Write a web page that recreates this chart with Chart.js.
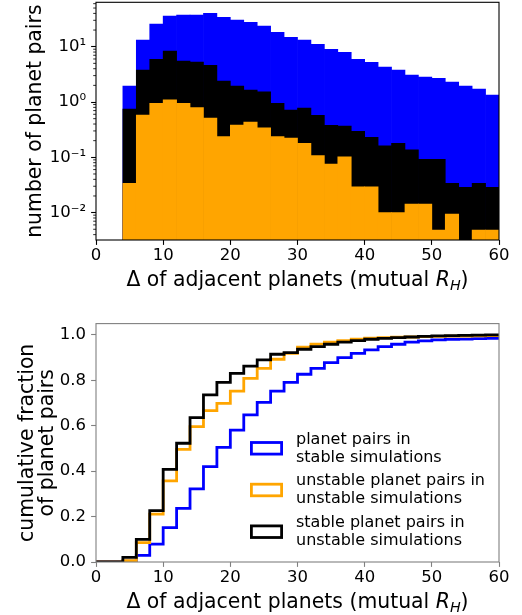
<!DOCTYPE html>
<html><head><meta charset="utf-8">
<script src="https://cdn.jsdelivr.net/npm/chart.js@4.4.1/dist/chart.umd.min.js"></script>
<style>
html,body{margin:0;padding:0;background:#fff;}
#wrap{position:relative;width:522px;height:615px;overflow:hidden;}
canvas{position:absolute;left:0;}
</style></head><body>
<div id="wrap">
<canvas id="c1" width="522" height="300" style="top:0;width:522px;height:300px"></canvas>
<canvas id="c2" width="522" height="315" style="top:300px;width:522px;height:315px"></canvas>
</div>
<script>
// ---------- data: top histogram (bins of width 2, centres) ----------
const histBinCenters = [5,7,9,11,13,15,17,19,21,23,25,27,29,31,33,35,37,39,41,43,45,47,49,51,53,55,57,59];
const histStable = [1.95,13.2,25.7,35.9,37.4,37.4,40.2,34.0,30.4,27.6,23.7,18.2,14.8,13.2,11.0,8.97,7.93,5.92,5.22,4.30,3.79,3.08,2.83,2.68,2.30,1.95,1.72,1.34];
const histStableInUnstable = [0.746,3.79,5.92,8.36,5.51,5.29,4.60,2.40,1.95,1.65,1.52,0.946,0.716,0.78,0.574,0.378,0.368,0.295,0.23,0.162,0.179,0.136,0.092,0.092,0.0339,0.0287,0.0339,0.0287];
const histUnstable = [0.0339,0.582,0.946,1.09,0.946,0.789,0.514,0.236,0.384,0.435,0.343,0.236,0.223,0.179,0.107,0.0757,0.1025,0.0294,0.0294,0.01,0.01,0.0143,0.0143,0.00484,0.00944,null,0.00484,0.00484];

// ---------- data: bottom cumulative (bin edges and value of each bin) ----------
const cumEdges = [0,2,4,6,8,10,12,14,16,18,20,22,24,26,28,30,32,34,36,38,40,42,44,46,48,50,52,54,56,58,60];
const cumStart = 0;
const cumStable = [0,0,0.004,0.029,0.079,0.151,0.236,0.322,0.42,0.505,0.581,0.648,0.703,0.753,0.791,0.827,0.853,0.878,0.9,0.919,0.934,0.949,0.959,0.968,0.974,0.978,0.981,0.982,0.984,0.985];
const cumUnstable = [0,0,0.006,0.085,0.211,0.357,0.496,0.596,0.667,0.699,0.753,0.809,0.853,0.893,0.919,0.946,0.96,0.968,0.975,0.982,0.986,0.988,0.99,0.991,0.993,0.994,0.995,0.995,0.996,0.997];
const cumStableInUnstable = [0,0,0.02,0.1,0.226,0.408,0.523,0.636,0.736,0.791,0.831,0.863,0.89,0.915,0.922,0.937,0.949,0.959,0.968,0.975,0.981,0.985,0.988,0.991,0.994,0.996,0.997,0.998,0.999,1.0];

// ---------- ticks ----------
const xTickValues = [0,10,20,30,40,50,60];
const yTopTickValues = [0.01,0.1,1,10];
const yTopTickLabels = ['10\u207B\u00B2','10\u207B\u00B9','10\u2070','10\u00B9'];
const yTopMinorTicks = [0.004,0.005,0.006,0.007,0.008,0.009,0.02,0.03,0.04,0.05,0.06,0.07,0.08,0.09,0.2,0.3,0.4,0.5,0.6,0.7,0.8,0.9,2,3,4,5,6,7,8,9,20,30,40,50,60];
const yBotTickValues = [0,0.2,0.4,0.6,0.8,1.0];

const legendEntries = [
  ['planet pairs in','stable simulations'],
  ['unstable planet pairs in','unstable simulations'],
  ['stable planet pairs in','unstable simulations']
];
const legendColors = ['#0000ff','#ffa500','#000000'];

const FONT = 'DejaVu Sans';
Chart.defaults.font.family = FONT;
Chart.defaults.color = '#000';
const TICK_FS = 16.5, LABEL_FS = 20.4;

function xTitle(ctx, cx, baseline) {
  const parts = [
    {t:'\u0394 of adjacent planets (mutual ', f:`${LABEL_FS}px "${FONT}"`, dy:0},
    {t:'R', f:`italic ${LABEL_FS}px "${FONT}"`, dy:0},
    {t:'H', f:`italic ${(LABEL_FS*0.7).toFixed(2)}px "${FONT}"`, dy:LABEL_FS*0.2},
    {t:')', f:`${LABEL_FS}px "${FONT}"`, dy:0}
  ];
  ctx.save();
  ctx.fillStyle = '#000'; ctx.textBaseline = 'alphabetic'; ctx.textAlign = 'left';
  let total = 0;
  parts.forEach(p => { ctx.font = p.f; p.w = ctx.measureText(p.t).width; total += p.w; });
  let x = cx - total/2;
  parts.forEach(p => { ctx.font = p.f; ctx.fillText(p.t, x, baseline + p.dy); x += p.w; });
  ctx.restore();
}
function yTitle(ctx, lines, xs, cy) {
  ctx.save();
  ctx.fillStyle = '#000'; ctx.font = `${LABEL_FS}px "${FONT}"`;
  ctx.textAlign = 'center'; ctx.textBaseline = 'alphabetic';
  lines.forEach((l, i) => {
    ctx.save(); ctx.translate(xs[i], cy); ctx.rotate(-Math.PI/2); ctx.fillText(l, 0, 0); ctx.restore();
  });
  ctx.restore();
}
function frame(chart, color) {
  const {ctx, chartArea:a} = chart;
  ctx.save(); ctx.strokeStyle = color; ctx.lineWidth = 1.1;
  ctx.strokeRect(a.left, a.top, a.right - a.left, a.bottom - a.top);
  ctx.restore();
}
function fixX(h) { return s => { s.height = h; s.paddingLeft = 0; s.paddingRight = 0; }; }
function fixY(w) { return s => { s.width = w; s.paddingTop = 0; s.paddingBottom = 0; }; }

// ---------- top chart ----------
const topPlugin = {
  id: 'topDecor',
  afterDatasetsDraw(chart) {
    const ctx = chart.ctx, a = chart.chartArea, ys = chart.scales.y;
    ctx.save(); ctx.strokeStyle = '#000'; ctx.lineWidth = 0.83;
    yTopMinorTicks.forEach(v => {
      const y = ys.getPixelForValue(v);
      if (y < a.top - 0.5 || y > a.bottom + 0.5) return;
      ctx.beginPath(); ctx.moveTo(a.left - 2.8, y); ctx.lineTo(a.left, y); ctx.stroke();
    });
    ctx.restore();
    frame(chart, '#000');
  },
  afterDraw(chart) {
    const a = chart.chartArea;
    xTitle(chart.ctx, (a.left + a.right)/2, 285.5);
    yTitle(chart.ctx, ['number of planet pairs'], [41], (a.top + a.bottom)/2);
  }
};
const mkBar = (vals, color, order) => ({
  data: histBinCenters.map((x, i) => ({x, y: vals[i]})),
  backgroundColor: color, borderWidth: 0, order,
  barPercentage: 1, categoryPercentage: 1, grouped: false
});
new Chart(document.getElementById('c1'), {
  type: 'bar',
  data: { datasets: [
    mkBar(histStable, '#0000ff', 2),
    mkBar(histStableInUnstable, '#000000', 1),
    mkBar(histUnstable, '#ffa500', 0)
  ]},
  options: {
    responsive: false, animation: false, devicePixelRatio: 1, events: [],
    layout: { padding: {top: 2.3, right: 23, left: 0, bottom: 0} },
    plugins: { legend: {display: false}, tooltip: {enabled: false} },
    scales: {
      x: {
        type: 'linear', min: 0, max: 60, offset: false,
        grid: { display: true, drawOnChartArea: false, drawTicks: true, tickLength: 4.9, tickColor: '#000', tickWidth: 1.1, offset: false },
        border: { display: false },
        ticks: { font: {size: TICK_FS, lineHeight: 1.2}, padding: 1.2, maxRotation: 0, autoSkip: false, color: '#000' },
        afterBuildTicks: s => { s.ticks = xTickValues.map(v => ({value: v})); },
        afterFit: fixX(60)
      },
      y: {
        type: 'logarithmic', min: 0.0032, max: 63.5,
        grid: { display: true, drawOnChartArea: false, drawTicks: true, tickLength: 4.9, tickColor: '#000', tickWidth: 1.1 },
        border: { display: false },
        ticks: { font: {size: TICK_FS}, padding: 5, autoSkip: false, color: '#000',
          callback: v => { const i = yTopTickValues.findIndex(t => Math.abs(t - v) / t < 1e-6); return i >= 0 ? yTopTickLabels[i] : ''; } },
        afterBuildTicks: s => { s.ticks = yTopTickValues.map(v => ({value: v})); },
        afterFit: fixY(96)
      }
    }
  },
  plugins: [topPlugin]
});

// ---------- bottom chart ----------
const GREY = '#808080';
const botPlugin = {
  id: 'botDecor',
  afterDatasetsDraw(chart) { frame(chart, GREY); },
  afterDraw(chart) {
    const ctx = chart.ctx, a = chart.chartArea;
    xTitle(ctx, (a.left + a.right)/2, 307.5);
    yTitle(ctx, ['cumulative fraction', 'of planet pairs'], [32.5, 53], (a.top + a.bottom)/2);
    // legend
    const handleX = 250, handleW = 33, handleH = 11.6;
    const baselines = [[143.5,161.5],[185,203],[226.5,244.5]];
    const handleCY = [148.3,190,231.7];
    ctx.save();
    ctx.font = `16px "${FONT}"`; ctx.fillStyle = '#000'; ctx.textAlign = 'left'; ctx.textBaseline = 'alphabetic';
    legendEntries.forEach((lines, i) => {
      ctx.strokeStyle = legendColors[i]; ctx.lineWidth = 2.8; ctx.lineJoin = 'miter';
      ctx.strokeRect(handleX + 1.4, handleCY[i] - handleH/2, handleW - 2.8, handleH);
      lines.forEach((l, j) => ctx.fillText(l, 296, baselines[i][j]));
    });
    ctx.restore();
  }
};
const mkLine = (vals, color, order) => ({
  data: [{x: cumEdges[0], y: cumStart}].concat(cumEdges.slice(1).map((e, i) => ({x: e, y: vals[i]}))),
  borderColor: color, borderWidth: 2.8, pointRadius: 0, fill: false, stepped: 'after', order,
  borderJoinStyle: 'miter', borderCapStyle: 'butt', tension: 0
});
new Chart(document.getElementById('c2'), {
  type: 'line',
  data: { datasets: [
    mkLine(cumStable, '#0000ff', 2),
    mkLine(cumUnstable, '#ffa500', 1),
    mkLine(cumStableInUnstable, '#000000', 0)
  ]},
  options: {
    responsive: false, animation: false, devicePixelRatio: 1, events: [],
    layout: { padding: {top: 23.6, right: 23, left: 0, bottom: 0} },
    plugins: { legend: {display: false}, tooltip: {enabled: false} },
    scales: {
      x: {
        type: 'linear', min: 0, max: 60, offset: false,
        grid: { display: true, drawOnChartArea: false, drawTicks: true, tickLength: 4.9, tickColor: GREY, tickWidth: 1.1 },
        border: { display: false },
        ticks: { font: {size: TICK_FS, lineHeight: 1.2}, padding: 1.2, maxRotation: 0, autoSkip: false, color: '#000' },
        afterBuildTicks: s => { s.ticks = xTickValues.map(v => ({value: v})); },
        afterFit: fixX(53)
      },
      y: {
        type: 'linear', min: 0, max: 1.05,
        grid: { display: true, drawOnChartArea: false, drawTicks: true, tickLength: 4.9, tickColor: GREY, tickWidth: 1.1 },
        border: { display: false },
        ticks: { font: {size: TICK_FS}, padding: 5, autoSkip: false, color: '#000', callback: v => Number(v).toFixed(1) },
        afterBuildTicks: s => { s.ticks = yBotTickValues.map(v => ({value: v})); },
        afterFit: fixY(96)
      }
    }
  },
  plugins: [botPlugin]
});
</script>
</body></html>
